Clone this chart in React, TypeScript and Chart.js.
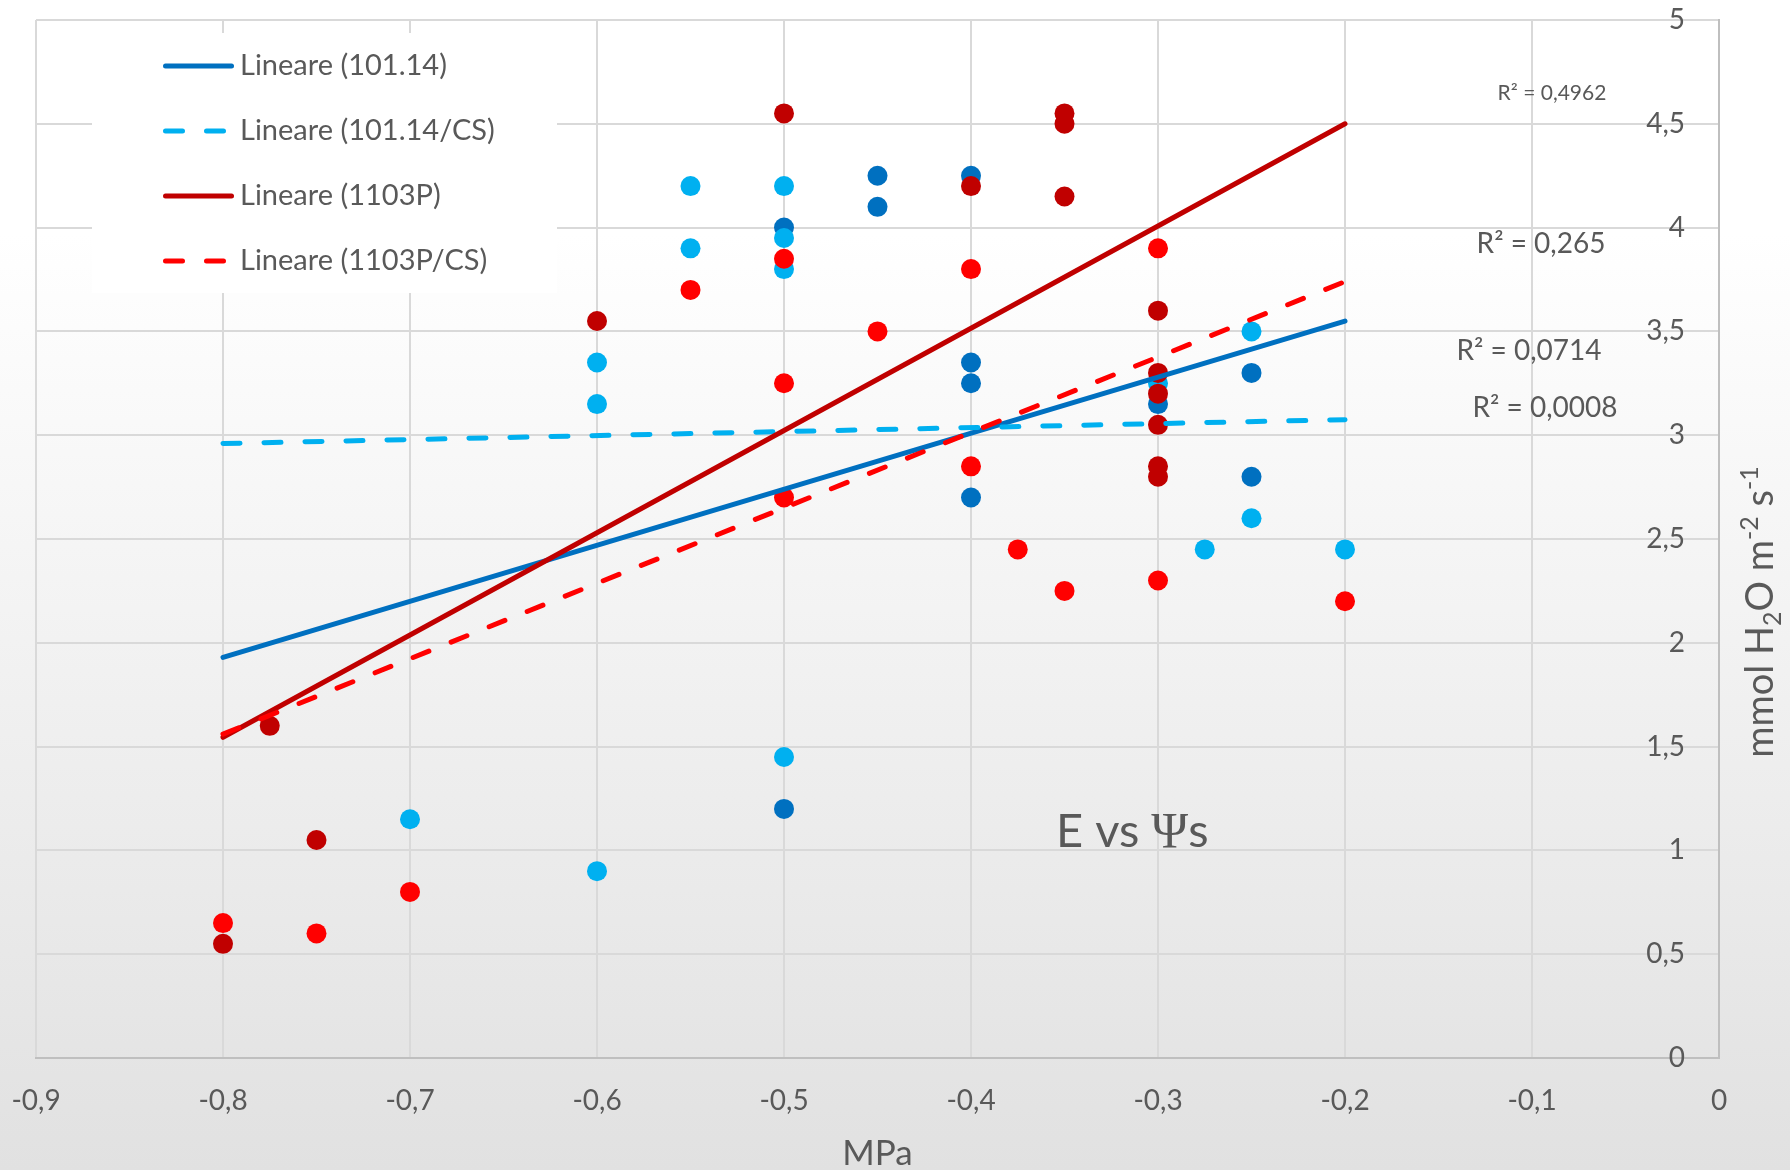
import React, { useEffect, useRef } from "react";
import { Chart, registerables } from "chart.js";

Chart.register(...registerables);

const W = 1790;
const H = 1170;

// ---- data ----
const seriesNames = ["101.14", "101.14/CS", "1103P", "1103P/CS"];
const seriesColors = ["#0070C0", "#00B0F0", "#C00000", "#FF0000"];
const seriesDashed = [false, true, false, true];

const x10114 = [-0.5, -0.5, -0.45, -0.45, -0.4, -0.4, -0.4, -0.4, -0.3, -0.25, -0.25];
const y10114 = [4.0, 1.2, 4.25, 4.1, 4.25, 3.35, 3.25, 2.7, 3.15, 3.3, 2.8];

const x10114CS = [-0.7, -0.6, -0.6, -0.6, -0.55, -0.55, -0.5, -0.5, -0.5, -0.5, -0.3, -0.275, -0.25, -0.25, -0.2];
const y10114CS = [1.15, 3.35, 3.15, 0.9, 4.2, 3.9, 4.2, 3.95, 3.8, 1.45, 3.25, 2.45, 3.5, 2.6, 2.45];

const x1103P = [-0.8, -0.775, -0.75, -0.6, -0.5, -0.4, -0.35, -0.35, -0.35, -0.3, -0.3, -0.3, -0.3, -0.3, -0.3];
const y1103P = [0.55, 1.6, 1.05, 3.55, 4.55, 4.2, 4.55, 4.5, 4.15, 3.6, 3.3, 3.2, 3.05, 2.85, 2.8];

const x1103PCS = [-0.8, -0.75, -0.7, -0.55, -0.5, -0.5, -0.5, -0.45, -0.4, -0.4, -0.375, -0.35, -0.3, -0.3, -0.2];
const y1103PCS = [0.65, 0.6, 0.8, 3.7, 3.85, 3.25, 2.7, 3.5, 3.8, 2.85, 2.45, 2.25, 3.9, 2.3, 2.2];

// linear trend lines (end points)
const trendX = [-0.8, -0.2];
const trend10114 = [1.93, 3.55];
const trend10114CS = [2.96, 3.075];
const trend1103P = [1.545, 4.5];
const trend1103PCS = [1.56, 3.74];

const legendPrefix = "Lineare";
const r2Labels = ["R² = 0,4962", "R² = 0,265", "R² = 0,0714", "R² = 0,0008"];
const chartNote = ["E vs ", "Ψ", "s"];
const xTitle = "MPa";
const yTitleParts = [
  { t: "mmol H", k: 0 },
  { t: "2", k: 1 },
  { t: "O m", k: 0 },
  { t: "-2", k: 2 },
  { t: " s", k: 0 },
  { t: "-1", k: 2 },
];

const TEXT = "#595959";
const FONT = "Lato";

const fmt = (v: number | string) => {
  const r = Math.round(Number(v) * 10) / 10;
  return r === 0 ? "0" : String(r).replace(".", ",");
};

const pts = (xs: number[], ys: number[]) => xs.map((x, i) => ({ x, y: ys[i] }));

const bgPlugin = {
  id: "bg",
  beforeDraw(chart: any) {
    const { ctx } = chart;
    const g = ctx.createLinearGradient(0, 0, 0, H);
    g.addColorStop(0, "#FFFFFF");
    g.addColorStop(0.2, "#FFFFFF");
    g.addColorStop(1, "#E1E1E1");
    ctx.save();
    ctx.fillStyle = g;
    ctx.fillRect(0, 0, W, H);
    ctx.restore();
  },
};

const overlayPlugin = {
  id: "overlay",
  beforeDatasetsDraw(chart: any) {
    const { ctx } = chart;
    ctx.save();
    // legend box
    ctx.fillStyle = "#FFFFFF";
    ctx.fillRect(92, 33, 465, 260);
    for (let i = 0; i < seriesNames.length; i++) {
      const yLine = 66 + i * 65;
      ctx.strokeStyle = seriesColors[i];
      ctx.lineWidth = 5;
      ctx.lineCap = "round";
      ctx.setLineDash(seriesDashed[i] ? [17, 24] : []);
      ctx.beginPath();
      ctx.moveTo(165.5, yLine);
      ctx.lineTo(231.5, yLine);
      ctx.stroke();
      ctx.setLineDash([]);
      ctx.fillStyle = TEXT;
      ctx.font = `29px ${FONT}`;
      ctx.textAlign = "left";
      ctx.textBaseline = "alphabetic";
      ctx.fillText(`${legendPrefix} (${seriesNames[i]})`, 240, 75 + i * 65);
    }
    ctx.restore();
  },
  afterDraw(chart: any) {
    const { ctx } = chart;
    ctx.save();
    ctx.fillStyle = TEXT;
    ctx.textBaseline = "alphabetic";
    ctx.textAlign = "center";
    // R² labels
    const r2Pos = [
      [1552, 100, 21],
      [1541, 253, 28],
      [1529, 360, 28],
      [1545, 417, 28],
    ];
    r2Labels.forEach((t, i) => {
      const [x, y, s] = r2Pos[i];
      ctx.font = `${s}px ${FONT}`;
      ctx.fillText(t, x, y);
    });
    // E vs Ψs
    ctx.textAlign = "left";
    const fonts = [`47px ${FONT}`, `50px "Liberation Serif"`, `47px ${FONT}`];
    let x = 1056;
    chartNote.forEach((t, i) => {
      ctx.font = fonts[i];
      ctx.fillText(t, x, 847);
      x += ctx.measureText(t).width;
    });
    // y axis title, rotated
    const base = 38;
    const small = 25;
    const fontFor = (k: number) => `${k === 0 ? base : small}px ${FONT}`;
    let total = 0;
    yTitleParts.forEach((p) => {
      ctx.font = fontFor(p.k);
      total += ctx.measureText(p.t).width;
    });
    ctx.translate(1773, 612);
    ctx.rotate(-Math.PI / 2);
    let cx = -total / 2;
    yTitleParts.forEach((p) => {
      ctx.font = fontFor(p.k);
      const dy = p.k === 1 ? 8 : p.k === 2 ? -15 : 0;
      ctx.fillText(p.t, cx, dy);
      cx += ctx.measureText(p.t).width;
    });
    ctx.restore();
  },
};

export default function App() {
  const ref = useRef<HTMLCanvasElement>(null);

  useEffect(() => {
    const prev = document.body.style.margin;
    document.body.style.margin = "0";
    const canvas = ref.current!;
    const scatterSets = [
      { xs: x10114, ys: y10114 },
      { xs: x10114CS, ys: y10114CS },
      { xs: x1103P, ys: y1103P },
      { xs: x1103PCS, ys: y1103PCS },
    ].map((s, i) => ({
      label: seriesNames[i],
      data: pts(s.xs, s.ys),
      backgroundColor: seriesColors[i],
      borderColor: seriesColors[i],
      borderWidth: 0,
      pointRadius: 10,
      pointHoverRadius: 10,
      showLine: false,
      order: 7 - i,
    }));
    const trendSets = [trend10114, trend10114CS, trend1103P, trend1103PCS].map((ys, i) => ({
      label: `${legendPrefix} (${seriesNames[i]})`,
      data: pts(trendX, ys),
      showLine: true,
      borderColor: seriesColors[i],
      backgroundColor: seriesColors[i],
      borderWidth: 5,
      borderDash: seriesDashed[i] ? [17, 24] : [],
      borderCapStyle: "round",
      pointRadius: 0,
      pointHoverRadius: 0,
      fill: false,
      tension: 0,
      order: 3 - i,
    }));

    const chart = new Chart(canvas, {
      type: "scatter",
      data: { datasets: [...scatterSets, ...trendSets] as any },
      options: {
        responsive: false,
        maintainAspectRatio: false,
        animation: false,
        events: [],
        layout: { padding: { left: 36, top: 20, right: 71, bottom: 0 } },
        plugins: {
          legend: { display: false },
          tooltip: { enabled: false },
        },
        scales: {
          x: {
            type: "linear",
            position: "bottom",
            min: -0.9,
            max: 0,
            ticks: {
              stepSize: 0.1,
              callback: (v: any) => fmt(v),
              color: TEXT,
              font: { family: FONT, size: 28 },
              padding: 26,
              maxRotation: 0,
              autoSkip: false,
            },
            grid: { color: "#D9D9D9", lineWidth: 2, drawTicks: false },
            border: { display: true, color: "#BFBFBF", width: 2 },
            title: {
              display: true,
              text: xTitle,
              color: TEXT,
              font: { family: FONT, size: 35 },
              padding: { top: 0, bottom: -5 },
            },
            afterFit: (s: any) => {
              s.height = 112;
              s.paddingLeft = 0;
              s.paddingRight = 0;
            },
          },
          y: {
            type: "linear",
            position: "right",
            min: 0,
            max: 5,
            ticks: {
              stepSize: 0.5,
              callback: (v: any) => fmt(v),
              color: TEXT,
              font: { family: FONT, size: 28 },
              mirror: true,
              padding: -34,
            },
            grid: { color: "#D9D9D9", lineWidth: 2, drawTicks: false },
            border: { display: true, color: "#BFBFBF", width: 2 },
            afterFit: (s: any) => {
              s.width = 0;
            },
          },
        },
      } as any,
      plugins: [bgPlugin, overlayPlugin],
    });

    return () => {
      chart.destroy();
      document.body.style.margin = prev;
    };
  }, []);

  return (
    <div style={{ position: "fixed", left: 0, top: 0, width: W, height: H }}>
      <canvas ref={ref} width={W} height={H} style={{ width: W, height: H, display: "block" }} />
    </div>
  );
}
